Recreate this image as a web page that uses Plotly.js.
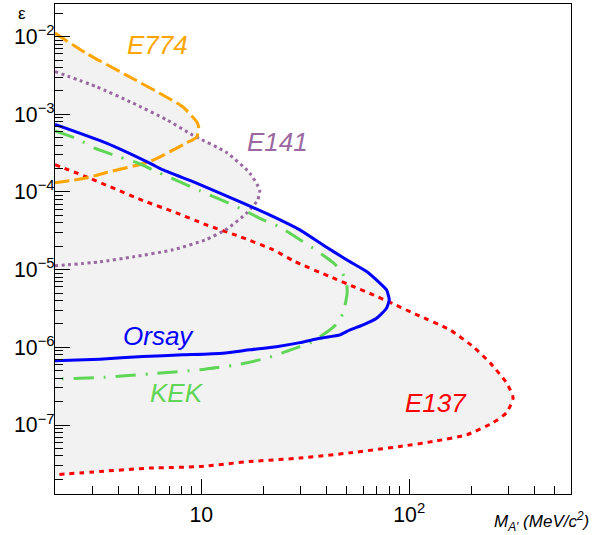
<!DOCTYPE html>
<html>
<head>
<meta charset="utf-8">
<script src="https://cdn.plot.ly/plotly-3.0.1.min.js"></script>
<style>html,body{margin:0;padding:0;background:#fff;}#chart{width:609px;height:535px;}</style>
</head>
<body>
<div id="chart"></div>
<script>
// E774 (orange)
const e774X = [1.98, 2.80, 4.36, 6.31, 8.15, 9.51, 9.73, 9.51, 8.51, 5.65, 3.50, 2.80, 1.98];
const e774Y = [1.11e-2, 6.1e-3, 3.2e-3, 1.87e-3, 1.25e-3, 8.0e-4, 6.7e-4, 5.1e-4, 4.3e-4, 2.46e-4, 1.78e-4, 1.51e-4, 1.31e-4];
// E141 (purple)
const e141X = [1.98, 3.13, 4.68, 6.82, 9.10, 13.3, 17.1, 19.1, 18.7, 16.6, 13.3, 10.6, 7.31, 4.68, 3.25, 1.98];
const e141Y = [3.55e-3, 2.27e-3, 1.40e-3, 8.5e-4, 5.4e-4, 3.2e-4, 1.76e-4, 1.06e-4, 7.9e-5, 5.4e-5, 3.35e-5, 2.45e-5, 1.80e-5, 1.46e-5, 1.26e-5, 1.12e-5];
// Orsay (blue)
const orsayX = [1.98, 3.50, 5.65, 6.55, 9.49, 15.3, 22.2, 29.8, 38.5, 50.0, 62.4, 72.3, 77.8, 80.2, 77.8, 69.7, 60.1, 51.9, 46.5, 37.2, 29.8, 23.0, 17.1, 12.7, 8.17, 5.25, 3.25, 1.98];
const orsayY = [7.4e-4, 4.25e-4, 2.35e-4, 1.92e-4, 1.30e-4, 7.52e-5, 4.82e-5, 3.25e-5, 2.08e-5, 1.34e-5, 9.46e-6, 6.7e-6, 5.5e-6, 4.09e-6, 3.19e-6, 2.37e-6, 1.95e-6, 1.68e-6, 1.45e-6, 1.31e-6, 1.15e-6, 1.02e-6, 9.28e-7, 8.41e-7, 8.0e-7, 7.62e-7, 7.05e-7, 6.7e-7];
// KEK (green)
const kekX = [1.98, 2.55, 3.07, 4.06, 4.97, 6.31, 9.84, 15.3, 18.8, 23.9, 28.7, 36.5, 43.1, 47.3, 50.0, 50.3, 48.1, 44.4, 38.5, 33.2, 29.8, 20.6, 14.8, 9.84, 5.65, 3.25, 2.08, 1.98];
const kekY = [6.1e-4, 4.78e-4, 3.66e-4, 2.81e-4, 2.35e-4, 1.75e-4, 1.04e-4, 6.19e-5, 4.69e-5, 3.52e-5, 2.6e-5, 1.71e-5, 1.23e-5, 9.46e-6, 6.7e-6, 4.99e-6, 2.75e-6, 1.95e-6, 1.45e-6, 1.13e-6, 1.02e-6, 7.26e-7, 5.96e-7, 5.13e-7, 4.56e-7, 4.08e-7, 3.93e-7, 3.93e-7];
// E137 (red)
const e137X = [1.98, 2.90, 5.25, 7.31, 10.6, 15.3, 22.2, 28.2, 41.5, 53.8, 67.2, 83.8, 109, 157, 203, 245, 294, 316, 294, 253, 189, 130, 90.2, 51.9, 29.8, 17.1, 9.84, 5.65, 3.25, 1.98];
const e137Y = [2.25e-4, 1.51e-4, 7.75e-5, 5.6e-5, 3.77e-5, 2.67e-5, 1.80e-5, 1.27e-5, 8.15e-6, 6.07e-6, 4.74e-6, 3.63e-6, 2.62e-6, 1.68e-6, 1.02e-6, 6.31e-7, 3.49e-7, 2.24e-7, 1.44e-7, 1.07e-7, 7.48e-8, 6.13e-8, 5.29e-8, 4.38e-8, 3.75e-8, 3.39e-8, 2.92e-8, 2.79e-8, 2.52e-8, 2.29e-8];

const curves = [
  {name: 'E137', x: e137X, y: e137Y, color: '#ff0000', dash: '5px,5px'},
  {name: 'E141', x: e141X, y: e141Y, color: '#9a68a0', dash: '3px,3.5px'},
  {name: 'E774', x: e774X, y: e774Y, color: '#ffa500', dash: '15px,5px'},
  {name: 'KEK', x: kekX, y: kekY, color: '#5fd655', dash: '20px,10px,2px,10px'},
  {name: 'Orsay', x: orsayX, y: orsayY, color: '#0000ff', dash: 'solid'}
];

const traces = [];
curves.forEach(c => {
  traces.push({x: c.x, y: c.y, type: 'scatter', mode: 'lines', fill: 'toself',
    fillcolor: '#f2f2f2', line: {width: 0, shape: 'spline', smoothing: 0.5},
    hoverinfo: 'skip', showlegend: false});
});
curves.forEach(c => {
  traces.push({x: c.x, y: c.y, type: 'scatter', mode: 'lines', name: c.name,
    line: {color: c.color, width: 3, dash: c.dash, shape: 'spline', smoothing: 0.5},
    showlegend: false});
});

const FF = 'Liberation Sans, Arial, sans-serif';
const tickFont = {family: FF, size: 17, color: '#000'};
const labelFont = (color) => ({family: FF, size: 26, color: color});
const px = (v) => (v - 55) / 516;
const py = (v) => (494 - v) / 490;

const layout = {
  width: 609, height: 535,
  margin: {l: 55, r: 38, t: 4, b: 41},
  paper_bgcolor: '#fff', plot_bgcolor: '#fff',
  showlegend: false,
  xaxis: {
    type: 'log', range: [Math.log10(1.98), Math.log10(600)],
    showgrid: false, zeroline: false,
    showline: true, mirror: true, linecolor: '#000', linewidth: 1,
    ticks: 'inside', ticklen: 15, tickcolor: '#000', dtick: 1,
    exponentformat: 'power', tickfont: tickFont, ticklabelstandoff: 2,
    minor: {ticks: 'inside', ticklen: 8, dtick: 'D1', tickcolor: '#000', showgrid: false}
  },
  yaxis: {
    type: 'log', range: [-7.888, -1.58],
    showgrid: false, zeroline: false,
    showline: true, mirror: true, linecolor: '#000', linewidth: 1,
    ticks: 'inside', ticklen: 15, tickcolor: '#000', dtick: 1,
    exponentformat: 'power', tickfont: tickFont, ticklabelstandoff: -4,
    minor: {ticks: 'inside', ticklen: 8, dtick: 'D1', tickcolor: '#000', showgrid: false}
  },
  annotations: [
    {text: 'ε', xref: 'paper', yref: 'paper', x: px(22), y: py(13), xanchor: 'center', yanchor: 'middle',
     showarrow: false, font: {family: FF, size: 17, color: '#000'}},
    {text: '<i>M<sub>A\'</sub> (MeV/c<sup>2</sup>)</i>', xref: 'paper', yref: 'paper', x: px(591), y: py(521),
     xanchor: 'right', yanchor: 'middle', showarrow: false,
     font: {family: FF, size: 17, color: '#000'}},
    {text: '<i>E774</i>', xref: 'paper', yref: 'paper', x: px(157), y: py(45),
     xanchor: 'center', yanchor: 'middle', showarrow: false, font: labelFont('#ffa500')},
    {text: '<i>E141</i>', xref: 'paper', yref: 'paper', x: px(277), y: py(142),
     xanchor: 'center', yanchor: 'middle', showarrow: false, font: labelFont('#9a68a0')},
    {text: '<i>Orsay</i>', xref: 'paper', yref: 'paper', x: px(158), y: py(336),
     xanchor: 'center', yanchor: 'middle', showarrow: false, font: labelFont('#0000ff')},
    {text: '<i>KEK</i>', xref: 'paper', yref: 'paper', x: px(177), y: py(393),
     xanchor: 'center', yanchor: 'middle', showarrow: false, font: labelFont('#5fd655')},
    {text: '<i>E137</i>', xref: 'paper', yref: 'paper', x: px(436), y: py(403),
     xanchor: 'center', yanchor: 'middle', showarrow: false, font: labelFont('#ff0000')}
  ]
};

Plotly.newPlot('chart', traces, layout, {displayModeBar: false, staticPlot: true});
</script>
</body>
</html>
